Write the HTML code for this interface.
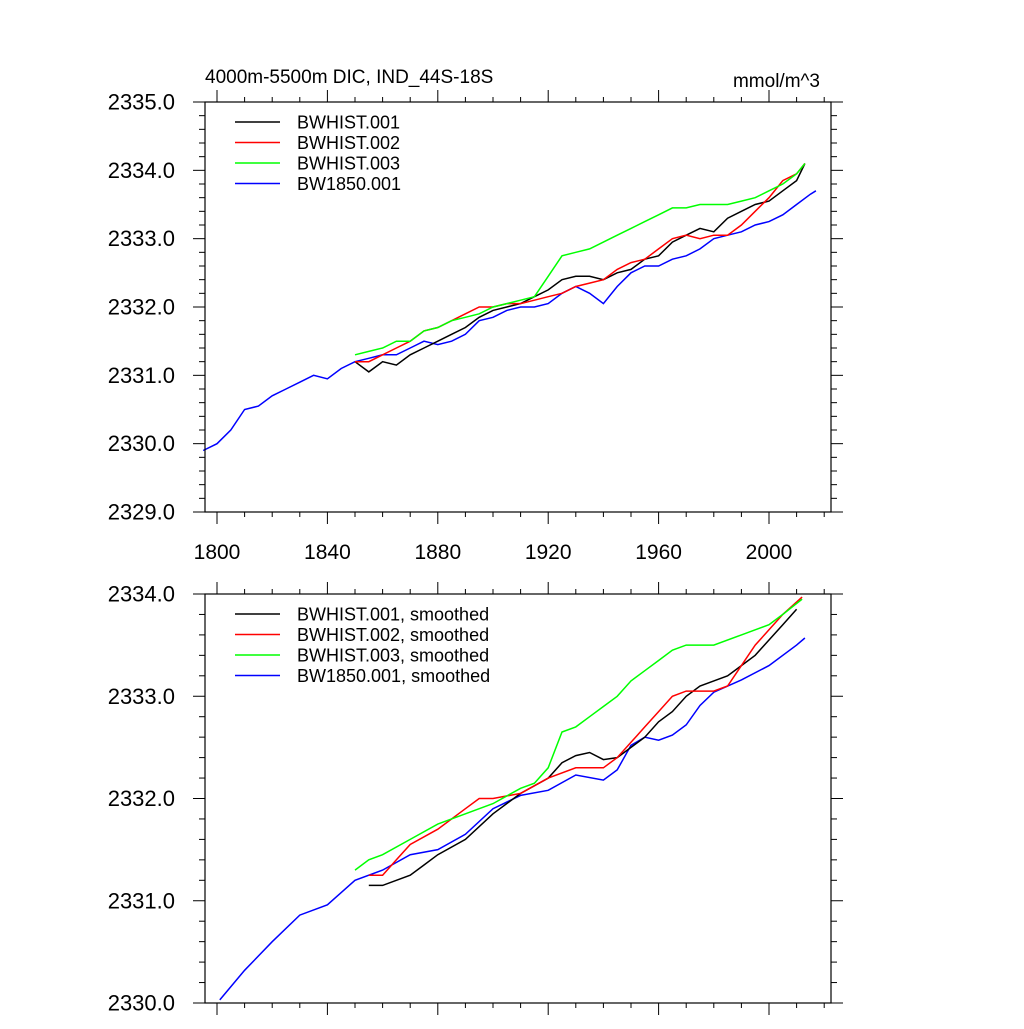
<!DOCTYPE html>
<html><head><meta charset="utf-8"><style>
body{margin:0;background:#fff}
svg text{font-family:"Liberation Sans",sans-serif;fill:#000}
</style></head><body>
<svg id="c" width="1024" height="1024" xmlns="http://www.w3.org/2000/svg"></svg>
<script>
const topYears={
 blue:[1795,1800,1805,1810,1815,1820,1825,1830,1835,1840,1845,1850,1855,1860,1865,1870,1875,1880,1885,1890,1895,1900,1905,1910,1915,1920,1925,1930,1935,1940,1945,1950,1955,1960,1965,1970,1975,1980,1985,1990,1995,2000,2005,2010,2015,2017],
 hist:[1850,1855,1860,1865,1870,1875,1880,1885,1890,1895,1900,1905,1910,1915,1920,1925,1930,1935,1940,1945,1950,1955,1960,1965,1970,1975,1980,1985,1990,1995,2000,2005,2010,2013]
};
const topBlue=[2329.9,2330.0,2330.2,2330.5,2330.55,2330.7,2330.8,2330.9,2331.0,2330.95,2331.1,2331.2,2331.25,2331.3,2331.3,2331.4,2331.5,2331.45,2331.5,2331.6,2331.8,2331.85,2331.95,2332.0,2332.0,2332.05,2332.2,2332.3,2332.2,2332.05,2332.3,2332.5,2332.6,2332.6,2332.7,2332.75,2332.85,2333.0,2333.05,2333.1,2333.2,2333.25,2333.35,2333.5,2333.65,2333.7];
const topBlack=[2331.2,2331.05,2331.2,2331.15,2331.3,2331.4,2331.5,2331.6,2331.7,2331.85,2331.95,2332.0,2332.05,2332.15,2332.25,2332.4,2332.45,2332.45,2332.4,2332.5,2332.55,2332.7,2332.75,2332.95,2333.05,2333.15,2333.1,2333.3,2333.4,2333.5,2333.55,2333.7,2333.85,2334.1];
const topRed=[2331.2,2331.2,2331.3,2331.4,2331.5,2331.65,2331.7,2331.8,2331.9,2332.0,2332.0,2332.05,2332.05,2332.1,2332.15,2332.2,2332.3,2332.35,2332.4,2332.55,2332.65,2332.7,2332.85,2333.0,2333.05,2333.0,2333.05,2333.05,2333.2,2333.4,2333.6,2333.85,2333.95,2334.1];
const topGreen=[2331.3,2331.35,2331.4,2331.5,2331.5,2331.65,2331.7,2331.8,2331.85,2331.9,2332.0,2332.05,2332.1,2332.15,2332.45,2332.75,2332.8,2332.85,2332.95,2333.05,2333.15,2333.25,2333.35,2333.45,2333.45,2333.5,2333.5,2333.5,2333.55,2333.6,2333.7,2333.8,2333.95,2334.1];
const botBlueYears=[1801,1810,1820,1830,1840,1850,1860,1870,1880,1890,1900,1910,1920,1930,1940,1945,1950,1955,1960,1965,1970,1975,1980,1990,2000,2010,2013];
const botBlue=[2330.03,2330.32,2330.6,2330.86,2330.96,2331.2,2331.3,2331.45,2331.5,2331.65,2331.9,2332.03,2332.08,2332.23,2332.18,2332.28,2332.52,2332.6,2332.57,2332.62,2332.72,2332.91,2333.04,2333.16,2333.3,2333.5,2333.57];
const botBlackYears=[1855,1860,1870,1875,1880,1890,1900,1910,1920,1925,1930,1935,1940,1945,1950,1955,1960,1965,1970,1975,1980,1985,1990,1995,2000,2005,2010];
const botBlack=[2331.15,2331.15,2331.25,2331.35,2331.45,2331.6,2331.85,2332.05,2332.2,2332.35,2332.42,2332.45,2332.38,2332.4,2332.5,2332.6,2332.75,2332.85,2333.0,2333.1,2333.15,2333.2,2333.3,2333.4,2333.55,2333.7,2333.85];
const botRedYears=[1855,1860,1865,1870,1880,1890,1895,1900,1910,1920,1930,1940,1945,1950,1955,1960,1965,1970,1975,1980,1985,1990,1995,2000,2005,2012];
const botRed=[2331.25,2331.25,2331.4,2331.55,2331.7,2331.9,2332.0,2332.0,2332.05,2332.2,2332.3,2332.3,2332.4,2332.55,2332.7,2332.85,2333.0,2333.05,2333.05,2333.05,2333.1,2333.3,2333.5,2333.65,2333.8,2333.97];
const botGreenYears=[1850,1855,1860,1870,1880,1890,1900,1910,1915,1920,1925,1930,1935,1940,1945,1950,1955,1960,1965,1970,1980,1990,1995,2000,2005,2012];
const botGreen=[2331.3,2331.4,2331.45,2331.6,2331.75,2331.85,2331.95,2332.1,2332.15,2332.3,2332.65,2332.7,2332.8,2332.9,2333.0,2333.15,2333.25,2333.35,2333.45,2333.5,2333.5,2333.6,2333.65,2333.7,2333.8,2333.95];
const xTicks=[1800,1840,1880,1920,1960,2000];
const topYTicks=[2329,2330,2331,2332,2333,2334,2335];
const botYTicks=[2330,2331,2332,2333,2334];

const svg=document.getElementById('c');const NS='http://www.w3.org/2000/svg';
function el(t,a,p){const e=document.createElementNS(NS,t);for(const k in a)e.setAttribute(k,a[k]);(p||svg).appendChild(e);return e;}
const L=205,R=831;
const xs=y=>217+(y-1800)*(769-217)/200;
function panel(name,top,bot,ymin,ymax,yt,labelsX,series,legend){
  const g=el('g',{});
  
  
  const ys=v=>bot-(v-ymin)*(bot-top)/(ymax-ymin);
  for(const s of series){
    const d=s.x.map((x,i)=>(i?'L':'M')+xs(x).toFixed(1)+','+ys(s.y[i]).toFixed(1)).join('');
    const p=el('path',{d:d,fill:'none',stroke:s.c,'stroke-width':1.5},g);
    
    
  }
  el('rect',{x:L,y:top,width:R-L,height:bot-top,fill:'none',stroke:'#000','stroke-width':1.2},g);
  for(let yv=ymin;yv<=ymax+1e-6;yv+=0.2){
    const yy=ys(yv);const maj=Math.abs(yv-Math.round(yv))<1e-6;const len=maj?12:6;
    el('line',{x1:L,x2:L-len,y1:yy,y2:yy,stroke:'#000'},g);
    el('line',{x1:R,x2:R+len,y1:yy,y2:yy,stroke:'#000'},g);
  }
  for(const v of yt){
    const t=el('text',{x:L-30,y:ys(v)+7.5,'text-anchor':'end','font-size':22},g);t.textContent=v.toFixed(1);
    
    
  }
  for(let x=1800;x<=2020;x+=10){
    const xx=xs(x);const maj=x%40===0;const len=maj?12:5;
    el('line',{x1:xx,x2:xx,y1:bot,y2:bot+len,stroke:'#000'},g);
    el('line',{x1:xx,x2:xx,y1:top,y2:top-len,stroke:'#000'},g);
  }
  if(labelsX)for(const x of xTicks){
    const t=el('text',{x:xs(x),y:bot+47,'text-anchor':'middle','font-size':21},g);t.textContent=x;
    
    
  }
  legend.forEach((lg,i)=>{
    const yy=top+20+i*20.5;
    el('line',{x1:235,x2:280,y1:yy,y2:yy,stroke:lg[1],'stroke-width':1.5},g);
    const t=el('text',{x:297,y:yy+6.5,'font-size':18},g);t.textContent=lg[0];
    
    
  });
}
panel('top-panel',102,512,2329,2335,topYTicks,true,[
 {x:topYears.blue,y:topBlue,c:'#0000ff',n:'bw1850-line'},
 {x:topYears.hist,y:topBlack,c:'#000000',n:'bwhist001-line'},
 {x:topYears.hist,y:topRed,c:'#ff0000',n:'bwhist002-line'},
 {x:topYears.hist,y:topGreen,c:'#00ff00',n:'bwhist003-line'}],
 [['BWHIST.001','#000'],['BWHIST.002','#f00'],['BWHIST.003','#0f0'],['BW1850.001','#00f']]);
panel('bottom-panel',594,1003,2330,2334,botYTicks,false,[
 {x:botBlueYears,y:botBlue,c:'#0000ff',n:'bw1850-smoothed-line'},
 {x:botBlackYears,y:botBlack,c:'#000000',n:'bwhist001-smoothed-line'},
 {x:botRedYears,y:botRed,c:'#ff0000',n:'bwhist002-smoothed-line'},
 {x:botGreenYears,y:botGreen,c:'#00ff00',n:'bwhist003-smoothed-line'}],
 [['BWHIST.001, smoothed','#000'],['BWHIST.002, smoothed','#f00'],['BWHIST.003, smoothed','#0f0'],['BW1850.001, smoothed','#00f']]);
let t=el('text',{x:205,y:83,'font-size':19});t.textContent='4000m-5500m DIC, IND_44S-18S';


t=el('text',{x:820,y:87,'font-size':19,'text-anchor':'end'});t.textContent='mmol/m^3';


</script>
</body></html>
